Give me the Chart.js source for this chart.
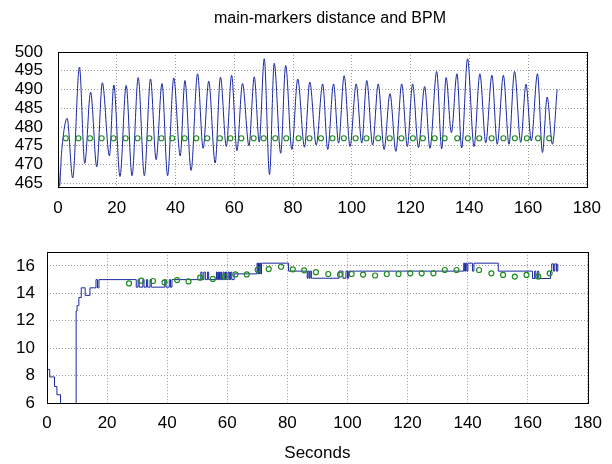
<!DOCTYPE html>
<html><head><meta charset="utf-8">
<script src="https://cdn.jsdelivr.net/npm/chart.js@4.4.0/dist/chart.umd.min.js"></script>
<style>
html,body{margin:0;padding:0;background:#fff;width:612px;height:464px;overflow:hidden}
canvas{position:absolute;left:0}
#c1{top:0}
#c2{top:230px}
#title{position:absolute;left:0;top:8px;width:660px;text-align:center;font:16px/20px 'Liberation Sans',Arial,Helvetica,sans-serif;color:#000;white-space:nowrap}
</style></head><body>
<canvas id="c1" width="612" height="230"></canvas>
<canvas id="c2" width="612" height="234"></canvas>
<div id="title"></div>
<script>
// ---- Data ----
const titleText = 'main-markers distance and BPM';
const xTitle = 'Seconds';
const xTicks = [0, 20, 40, 60, 80, 100, 120, 140, 160, 180];
const yTicksTop = [465, 470, 475, 480, 485, 490, 495, 500];
const yTicksBottom = [6, 8, 10, 12, 14, 16];

// main-markers distance (top, blue line): time (s) and value
const distT = [0, 0.5, 1.2, 3.1, 5.0, 7.3, 9.1, 11.1, 13.2, 15.1, 17.5, 19.0, 21.1, 23.2, 25.2, 27.3, 29.4, 31.5, 33.4, 35.4,
  37.3, 39.4, 41.6, 43.2, 45.3, 47.5, 49.4, 51.3, 53.5, 55.3, 57.3, 59.1, 60.9, 62.8, 65.0, 66.8, 68.5, 70.2, 72.0, 73.6,
  75.8, 77.5, 79.6, 81.6, 83.9, 85.7, 87.9, 90.1, 91.8, 93.8, 95.5, 97.4, 99.4, 101.5, 103.4, 105.1, 107.1, 109.0, 111.0, 113.0,
  115.0, 117.0, 118.9, 120.7, 122.7, 124.8, 126.6, 128.9, 130.6, 132.1, 133.9, 135.8, 137.4, 139.4, 141.6, 143.6, 145.6, 147.7, 149.5, 151.6,
  153.5, 155.4, 157.5, 159.3, 161.1, 163.2, 164.9, 166.5, 168.3, 169.9];
const distV = [474, 464.2, 473, 482.3, 466.4, 496, 470.3, 489.3, 469.4, 491.8, 472.3, 491.2, 466.8, 491.1, 467, 493.2, 467, 492.8, 471.3, 491.6,
  467, 493.1, 472.3, 492.4, 468.4, 494.2, 474.3, 492.2, 470.4, 493.3, 474.8, 493.8, 473.7, 491.6, 475, 493.4, 476, 498.2, 467.3, 497,
  473, 496.4, 474, 492.8, 474.6, 492, 475.2, 491.5, 474, 491.5, 475.7, 493.7, 474.8, 491.5, 475.7, 492.4, 475.2, 491.5, 474, 488.9,
  473.5, 491.5, 474.8, 491.5, 474.5, 490.8, 474.3, 494.8, 474.2, 493.2, 478.5, 494.2, 474.4, 498.2, 474.8, 494.2, 475.8, 493.8, 475.4, 493.8,
  475.4, 494.8, 475.9, 491.4, 476.3, 494.2, 473.2, 488, 475.4, 490];

// beat markers on top plot (green circles)
const beatT = [2.65, 6.95, 10.9, 14.86, 18.9, 23.0, 27.06, 31.1, 35.2, 38.9, 43.1, 47.06, 50.8, 55.1, 58.7, 62.4, 66.6, 70.0, 73.96, 77.7,
  81.9, 85.6, 89.5, 93.4, 97.3, 101.3, 105.0, 109.0, 112.9, 116.9, 120.8, 124.2, 128.2, 131.6, 135.9, 139.5, 143.4, 147.6, 151.6, 155.5,
  159.6, 163.4, 167.2];
const beatLevel = 477;

// BPM step line (bottom, blue)
const bpmT = [0, 0.1, 0.9, 2.5, 3.3, 4.5, 9.7, 10.0, 10.6, 11.4, 12.7, 14.3, 16.3, 16.8, 17.3,
  29.7, 30.3, 30.7, 31.9, 32.3, 33.1, 33.5, 34.3, 34.7, 39.2, 39.6, 40.7, 41.1, 41.6,
  51.2, 51.6, 52.2, 52.7, 53.4, 53.8,
  56.4, 56.7, 57.1, 57.4, 57.8, 58.1, 58.6, 59.0, 59.4, 59.8, 60.3, 60.7, 61.1, 61.5, 62.3,
  69.9, 70.2, 70.4, 70.7, 70.9, 71.2, 71.4, 71.8,
  80.4, 86.6, 86.9, 87.3, 87.6, 88.0, 88.4, 97.2, 98.5, 99.5, 100.0, 100.4,
  138.7, 139.0, 139.3, 139.7, 140.1, 141.6, 142.1, 150.2, 161.6, 162.3, 162.7, 163.3, 163.7,
  167.6, 168.0, 168.6, 169.0, 169.6, 170.0];
const bpmV = [5, 8.45, 7.9, 7.2, 6.6, 5, 12.7, 13.1, 13.7, 14.4, 13.85, 14.4, 15.0, 14.4, 15.0,
  14.45, 15.0, 14.45, 15.0, 14.45, 15.0, 14.45, 15.0, 14.45, 15.0, 14.45, 15.0, 14.45, 15.0,
  15.55, 15.0, 15.55, 15.0, 15.55, 15.0,
  15.55, 15.0, 15.55, 15.0, 15.55, 15.0, 15.55, 15.0, 15.55, 15.0, 15.55, 15.0, 15.55, 15.0, 15.42,
  16.2, 15.42, 16.2, 15.42, 16.2, 15.42, 16.2, 16.2,
  15.62, 15.1, 15.62, 15.1, 15.62, 15.1, 15.1, 15.62, 15.1, 15.62, 15.1, 15.62,
  16.2, 15.62, 16.2, 15.62, 16.2, 15.62, 16.2, 15.62, 15.08, 15.62, 15.08, 15.62, 15.08, 15.62,
  16.15, 15.62, 16.15, 15.62, 16.15, 16.15];

// BPM markers (bottom, green circles)
const bpmMarkT = [27.3, 31.4, 35.3, 39.1, 43.3, 47.1, 51.0, 55.2, 59.1, 62.7, 66.5, 70.1, 73.8, 77.9, 81.8, 85.6, 89.5, 93.6, 97.5, 101.4,
  105.2, 109.2, 113.1, 117.0, 120.9, 124.7, 128.6, 132.4, 136.3, 143.8, 147.9, 151.8, 155.7, 159.6, 163.5, 167.3];
const bpmMarkV = [14.72, 14.92, 14.9, 14.8, 14.97, 14.87, 15.14, 15.05, 15.21, 15.38, 15.38, 15.72, 15.77, 15.94, 15.75, 15.68, 15.54, 15.41, 15.37, 15.41,
  15.37, 15.3, 15.41, 15.41, 15.46, 15.46, 15.46, 15.7, 15.7, 15.7, 15.46, 15.34, 15.22, 15.34, 15.22, 15.46];

// ---- Styling ----
const FONT = "'Liberation Sans', Arial, Helvetica, sans-serif";
const BLUE = '#1a28a0';
const GREEN = '#1e8c1e';
const GRID = '#9a9a9a';

document.getElementById('title').textContent = titleText;

const frame = {
  id: 'frame',
  afterDraw(chart) {
    const {ctx, chartArea: a} = chart;
    ctx.save();
    ctx.strokeStyle = '#000';
    ctx.lineWidth = 1;
    ctx.strokeRect(Math.round(a.left) + 0.5, Math.round(a.top) + 0.5,
      Math.round(a.right - a.left), Math.round(a.bottom - a.top));
    ctx.restore();
  }
};

function pts(xs, ys) { return xs.map((x, i) => ({x: x, y: ys[i]})); }

function xScale(height, pad, withTitle) {
  return {
    type: 'linear', min: 0, max: 180,
    afterBuildTicks: s => { s.ticks = xTicks.map(v => ({value: v})); },
    afterFit: s => { s.height = height; },
    ticks: {font: {family: FONT, size: 17}, color: '#000', padding: pad, maxRotation: 0, autoSkip: false},
    grid: {color: GRID, lineWidth: 1, drawTicks: false},
    border: {display: false, dash: [1, 2]},
    title: withTitle ? {display: true, text: xTitle, color: '#000', font: {family: FONT, size: 17}, padding: {top: 0, bottom: 0}} : {display: false}
  };
}
function yScale(min, max, ticks, width, pad) {
  return {
    type: 'linear', min: min, max: max,
    afterBuildTicks: s => { s.ticks = ticks.map(v => ({value: v})); },
    afterFit: s => { s.width = width; },
    ticks: {font: {family: FONT, size: 17}, color: '#000', padding: pad, autoSkip: false},
    grid: {color: GRID, lineWidth: 1, drawTicks: false},
    border: {display: false, dash: [1, 2]}
  };
}

Chart.defaults.font.family = FONT;

new Chart(document.getElementById('c1'), {
  type: 'line',
  data: {
    datasets: [
      {data: beatT.map(t => ({x: t, y: beatLevel})), showLine: false, pointStyle: 'circle', pointRadius: 2.5,
        pointBorderColor: GREEN, pointBackgroundColor: 'rgba(255,255,255,0)', pointBorderWidth: 1.2},
      {data: pts(distT, distV), borderColor: BLUE, borderWidth: 1, pointRadius: 0, cubicInterpolationMode: 'monotone', fill: false}
    ]
  },
  options: {
    responsive: false, animation: false, events: [],
    layout: {padding: {left: 0, right: 23, top: 52, bottom: 0}},
    plugins: {legend: {display: false}, tooltip: {enabled: false}, title: {display: false}},
    scales: {
      x: xScale(43, 11, false),
      y: yScale(464, 500, yTicksTop, 58, 15)
    }
  },
  plugins: [frame]
});

new Chart(document.getElementById('c2'), {
  type: 'line',
  data: {
    datasets: [
      {data: pts(bpmMarkT, bpmMarkV), showLine: false, pointStyle: 'circle', pointRadius: 2.5,
        pointBorderColor: GREEN, pointBackgroundColor: 'rgba(255,255,255,0)', pointBorderWidth: 1.2},
      {data: pts(bpmT, bpmV), borderColor: BLUE, borderWidth: 1, pointRadius: 0, stepped: 'before', fill: false}
    ]
  },
  options: {
    responsive: false, animation: false, events: [],
    layout: {padding: {left: 0, right: 23, top: 22, bottom: 0}},
    plugins: {legend: {display: false}, tooltip: {enabled: false}, title: {display: false}},
    scales: {
      x: xScale(61, 10, true),
      y: yScale(6, 17, yTicksBottom, 47, 12)
    }
  },
  plugins: [frame]
});
</script>
</body></html>
